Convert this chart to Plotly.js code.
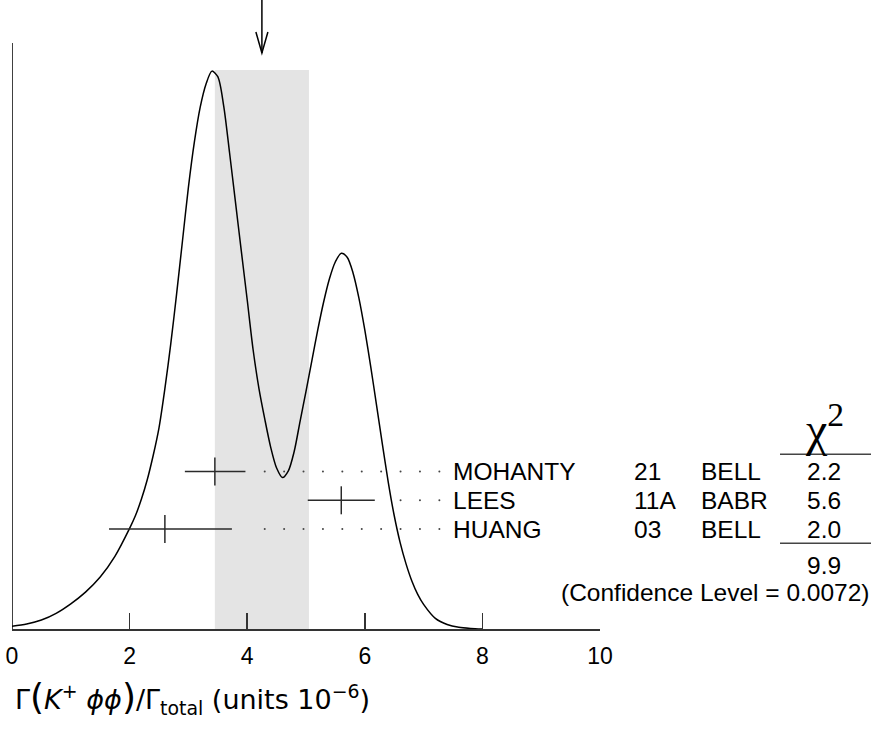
<!DOCTYPE html>
<html>
<head>
<meta charset="utf-8">
<script src="https://cdn.plot.ly/plotly-3.0.1.min.js"></script>
<style>html,body{margin:0;padding:0;background:#fff;}#chart{width:871px;height:733px;}</style>
</head>
<body>
<div id="chart"></div>
<script>
// ---- Data ----
var curveX = [0,0.25,0.5,0.75,1.0,1.25,1.5,1.75,2.0,2.1,2.2,2.3,2.4,2.5,2.6,2.7,2.8,2.9,3.0,3.1,3.2,3.3,3.4,3.5,3.6,3.7,3.8,3.9,4.0,4.1,4.2,4.3,4.4,4.5,4.6,4.7,4.8,4.9,5.0,5.1,5.2,5.3,5.4,5.5,5.6,5.7,5.8,5.9,6.0,6.1,6.2,6.3,6.4,6.5,6.6,6.7,6.8,6.9,7.0,7.2,7.4,7.6,7.8,8.0];
var curveY = [0.005,0.009,0.016,0.028,0.045,0.066,0.093,0.13,0.18,0.203,0.232,0.267,0.31,0.36,0.43,0.51,0.60,0.695,0.79,0.87,0.933,0.975,0.998,0.988,0.936,0.852,0.764,0.676,0.589,0.50,0.43,0.375,0.325,0.288,0.271,0.283,0.318,0.372,0.425,0.48,0.535,0.585,0.627,0.657,0.672,0.665,0.637,0.592,0.535,0.47,0.40,0.33,0.262,0.203,0.155,0.117,0.086,0.062,0.044,0.019,0.008,0.003,0.001,0];

var names    = ['MOHANTY', 'LEES', 'HUANG'];
var years    = ['21', '11A', '03'];
var expts    = ['BELL', 'BABR', 'BELL'];
var values   = [3.45, 5.6, 2.6];
var errPlus  = [0.52, 0.57, 1.14];
var errMinus = [0.51, 0.57, 0.95];
var chi2     = ['2.2', '5.6', '2.0'];
var chi2Sum  = '9.9';
var confLevel = '0.0072';

var fitMean = 4.25;
var fitErr  = 0.80;

var tickVals = [0, 2, 4, 6, 8, 10];
var tickText = ['0', '2', '4', '6', '8', '10'];

// ---- Layout helpers (pixel geometry) ----
var W = 871, H = 733;
var mL = 12, mR = 271, mT = 0, mB = 104;
var plotH = H - mT - mB;          // 629
var peakPx = 559;                  // pixel height of curve peak
var yTop = plotH / peakPx;         // y range top
function yPix(py) { return (plotH - py) / peakPx; } // pixel row -> data y
function xPaper(px) { return (px - mL) / (W - mL - mR); }

var rowY = [yPix(471.5), yPix(500.3), yPix(529)];

// dotted leaders
var dotX = [], dotY = [];
var dotStart = 4.298, dotStep = 0.33, dotEnd = 7.3;
for (var i = 0; i < names.length; i++) {
  var barEnd = values[i] + errPlus[i];
  for (var d = dotStart; d <= dotEnd; d += dotStep) {
    if (d > barEnd + 0.2) { dotX.push(d); dotY.push(rowY[i]); }
  }
}

var txtFont = {family: 'Liberation Sans, Arial, sans-serif', size: 24.5, color: '#000'};

var traces = [
  {
    x: curveX, y: curveY, type: 'scatter', mode: 'lines',
    line: {color: '#000', width: 1.5, shape: 'spline', smoothing: 0.8},
    hoverinfo: 'skip', showlegend: false
  },
  {
    x: values, y: rowY, type: 'scatter', mode: 'markers',
    marker: {symbol: 'line-ns', size: 20, color: '#2a2a2a', line: {color: '#2a2a2a', width: 1.5}},
    error_x: {type: 'data', symmetric: false, array: errPlus, arrayminus: errMinus,
              width: 0, thickness: 1.5, color: '#2a2a2a'},
    showlegend: false
  },
  {
    x: dotX, y: dotY, type: 'scatter', mode: 'markers',
    marker: {symbol: 'circle', size: 2, color: '#444'},
    hoverinfo: 'skip', showlegend: false
  }
];

var annotations = [];
for (var j = 0; j < names.length; j++) {
  annotations.push({xref: 'paper', yref: 'y', x: xPaper(451), y: rowY[j], xanchor: 'left', yanchor: 'middle', text: names[j], showarrow: false, font: txtFont});
  annotations.push({xref: 'paper', yref: 'y', x: xPaper(632), y: rowY[j], xanchor: 'left', yanchor: 'middle', text: years[j], showarrow: false, font: txtFont});
  annotations.push({xref: 'paper', yref: 'y', x: xPaper(699), y: rowY[j], xanchor: 'left', yanchor: 'middle', text: expts[j], showarrow: false, font: txtFont});
  annotations.push({xref: 'paper', yref: 'y', x: xPaper(824), y: rowY[j], xanchor: 'center', yanchor: 'middle', text: chi2[j], showarrow: false, font: txtFont});
}
annotations.push({xref: 'paper', yref: 'y', x: xPaper(824), y: yPix(565), xanchor: 'center', yanchor: 'middle', text: chi2Sum, showarrow: false, font: txtFont});
annotations.push({xref: 'paper', yref: 'y', x: xPaper(872), y: yPix(592), xanchor: 'right', yanchor: 'middle', text: '(Confidence Level = ' + confLevel + ')', showarrow: false, font: txtFont});
annotations.push({xref: 'paper', yref: 'y', x: xPaper(824), y: yPix(426), xanchor: 'center', yanchor: 'middle', text: 'χ<sup>2</sup>', showarrow: false, font: {family: 'Liberation Serif, serif', size: 48, color: '#000'}});
annotations.push({xref: 'paper', yref: 'paper', x: xPaper(13), y: (plotH - 698) / plotH, xanchor: 'left', yanchor: 'middle',
  text: 'Γ<span style="font-size:36px">(</span><i>K</i><sup>+</sup> <i>ϕϕ</i><span style="font-size:36px">)</span>/Γ<sub>total</sub> (units 10<sup>−6</sup>)', showarrow: false,
  font: {family: 'DejaVu Sans, sans-serif', size: 27, color: '#000'}});

var arrowTop = yTop, arrowTip = yPix(53), headY = yPix(32), headDx = 0.102;
var shapes = [
  {type: 'rect', xref: 'x', yref: 'y', x0: fitMean - fitErr, x1: fitMean + fitErr, y0: 0, y1: 1,
   fillcolor: '#e4e4e4', line: {width: 0}, layer: 'below'},
  {type: 'line', xref: 'x', yref: 'y', x0: 0, x1: 0, y0: 0, y1: yPix(43), line: {color: '#000', width: 1.5}},
  {type: 'line', xref: 'x', yref: 'y', x0: fitMean, x1: fitMean, y0: arrowTop, y1: arrowTip, line: {color: '#000', width: 1.5}},
  {type: 'path', xref: 'x', yref: 'y',
   path: 'M' + (fitMean - headDx) + ',' + headY + ' L' + fitMean + ',' + arrowTip + ' L' + (fitMean + headDx) + ',' + headY,
   line: {color: '#000', width: 1.5}},
  {type: 'line', xref: 'paper', yref: 'y', x0: xPaper(780), x1: xPaper(871), y0: yPix(454.3), y1: yPix(454.3), line: {color: '#444', width: 1.5}},
  {type: 'line', xref: 'paper', yref: 'y', x0: xPaper(780), x1: xPaper(871), y0: yPix(543.3), y1: yPix(543.3), line: {color: '#444', width: 1.5}}
];

var layout = {
  width: W, height: H,
  margin: {l: mL, r: mR, t: mT, b: mB, pad: 0},
  paper_bgcolor: '#fff', plot_bgcolor: '#fff',
  showlegend: false,
  xaxis: {
    range: [0, 10], showgrid: false, zeroline: false,
    showline: true, linecolor: '#333', linewidth: 1.5,
    ticks: 'inside', ticklen: 16, tickwidth: 1.5, tickcolor: '#333',
    tickvals: tickVals, ticktext: tickText, ticklabelstandoff: 6,
    tickfont: {family: 'Liberation Sans, Arial, sans-serif', size: 23, color: '#000'},
    fixedrange: true
  },
  yaxis: {range: [0, yTop], visible: false, fixedrange: true},
  shapes: shapes,
  annotations: annotations
};

Plotly.newPlot('chart', traces, layout, {staticPlot: true});
</script>
</body>
</html>
